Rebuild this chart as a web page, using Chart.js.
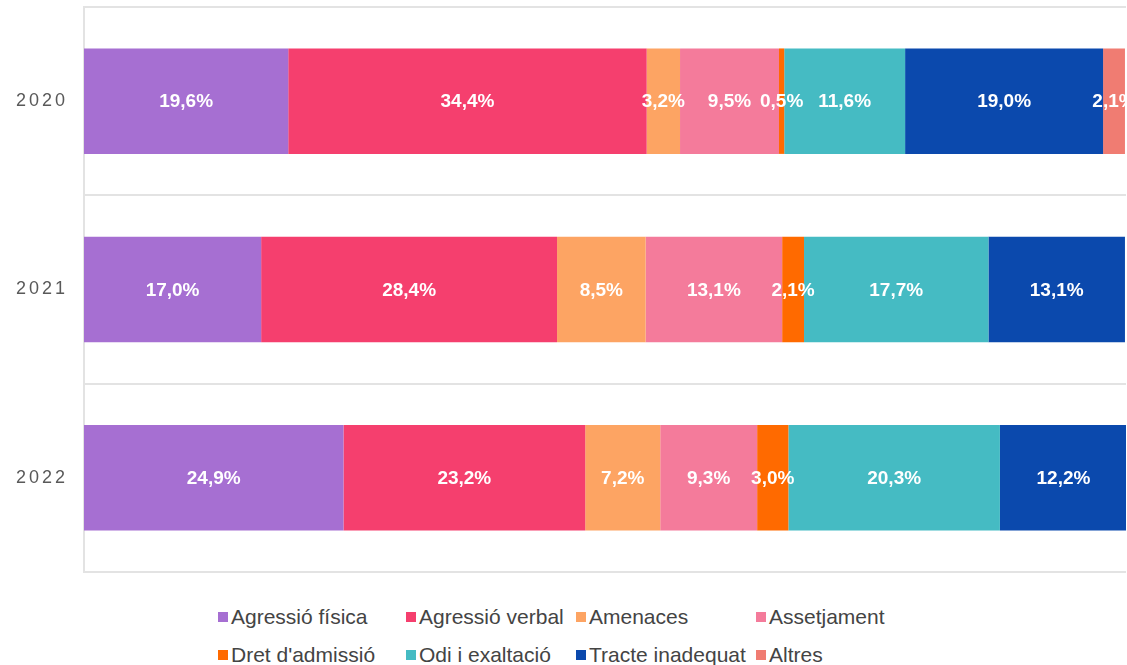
<!DOCTYPE html>
<html>
<head>
<meta charset="utf-8">
<script src="https://cdn.jsdelivr.net/npm/chart.js@4"></script>
<style>
  html, body { margin: 0; padding: 0; background: #fff; overflow: hidden; width: 1127px; height: 665px; }
  #grafic { position: absolute; left: 0; top: 0; }
  #llegenda {
    position: absolute; left: 218px; top: 598px;
    display: grid; grid-template-columns: 188px 170px 180px auto;
    grid-auto-rows: 38px;
    font-family: "Liberation Sans", Arial, sans-serif; font-size: 21px; color: #444;
  }
  #llegenda div { display: flex; align-items: center; white-space: nowrap; }
  #llegenda span.q { width: 10px; height: 10px; margin-right: 3px; display: inline-block; }
</style>
</head>
<body>
<canvas id="grafic" width="1180" height="575"></canvas>
<div id="llegenda"></div>
<script>
// ===============================
// DADES
// ===============================
const anys = ["2020", "2021", "2022"];
const categories = ["Agressió física", "Agressió verbal", "Amenaces", "Assetjament",
                    "Dret d'admissió", "Odi i exaltació", "Tracte inadequat", "Altres"];

const agressioFisica  = [19.6, 17.0, 24.9];
const agressioVerbal  = [34.4, 28.4, 23.2];
const amenaces        = [3.2, 8.5, 7.2];
const assetjament     = [9.5, 13.1, 9.3];
const dretAdmissio    = [0.5, 2.1, 3.0];
const odiExaltacio    = [11.6, 17.7, 20.3];
const tracteInadequat = [19.0, 13.1, 12.2];
const altres          = [2.1, 0, 0];

const colors = ["#a66fd2", "#f53f6e", "#fda463", "#f47b9b", "#ff6a00", "#45bbc3", "#0b49ad", "#f07c72"];

const series = [agressioFisica, agressioVerbal, amenaces, assetjament,
                dretAdmissio, odiExaltacio, tracteInadequat, altres];

// ===============================
// ETIQUETES DINS LES BARRES
// ===============================
const etiquetes = {
    id: "etiquetes",
    beforeDraw(chart) {
        chart.ctx.letterSpacing = "3px";
    },
    beforeDatasetsDraw(chart) {
        chart.ctx.letterSpacing = "0px";
    },
    afterDatasetsDraw(chart) {
        const ctx = chart.ctx;
        ctx.save();
        ctx.font = "bold 19px 'Liberation Sans', Arial, sans-serif";
        ctx.fillStyle = "#ffffff";
        ctx.textAlign = "center";
        ctx.textBaseline = "middle";
        chart.data.datasets.forEach((ds, i) => {
            const meta = chart.getDatasetMeta(i);
            meta.data.forEach((bar, j) => {
                const v = ds.data[j];
                if (!v) return;
                const x = (bar.x + bar.base) / 2;
                ctx.fillText(v.toFixed(1).replace(".", ",") + "%", x, bar.y + 1);
            });
        });
        ctx.restore();
    }
};

new Chart(document.getElementById("grafic"), {
    type: "bar",
    data: {
        labels: anys,
        datasets: categories.map((nom, i) => ({
            label: nom,
            data: series[i],
            backgroundColor: colors[i],
            borderWidth: 0,
            categoryPercentage: 1,
            barPercentage: 0.56
        }))
    },
    options: {
        indexAxis: "y",
        responsive: false,
        animation: false,
        layout: { padding: { top: 7, right: 54, bottom: 3, left: 0 } },
        plugins: {
            legend: { display: false },
            tooltip: { enabled: false }
        },
        scales: {
            x: {
                stacked: true,
                min: 0,
                max: 100,
                display: false
            },
            y: {
                stacked: true,
                afterFit: (scale) => {
                    scale.width = 84;
                    scale.paddingTop = 0;
                    scale.paddingBottom = 0;
                },
                grid: { color: "#e3e3e3", lineWidth: 2, drawTicks: false },
                border: { display: true, color: "#e3e3e3", width: 2 },
                ticks: {
                    padding: 16,
                    color: "#595959",
                    font: { family: "'Liberation Sans', Arial, sans-serif", size: 18 }
                }
            }
        }
    },
    plugins: [etiquetes]
});

// ===============================
// LLEGENDA
// ===============================
const llegenda = document.getElementById("llegenda");
categories.forEach((nom, i) => {
    const d = document.createElement("div");
    d.innerHTML = `<span class="q" style="background:${colors[i]}"></span>${nom}`;
    llegenda.appendChild(d);
});
</script>
</body>
</html>
